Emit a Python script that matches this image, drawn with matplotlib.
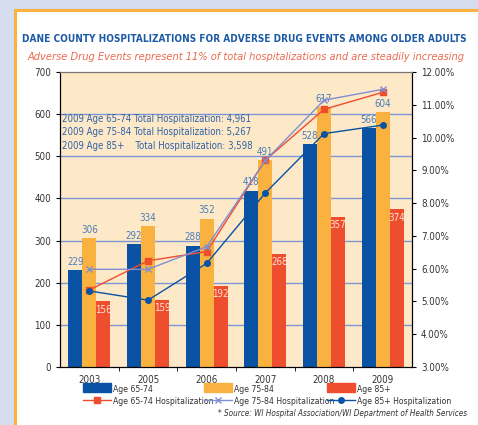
import matplotlib
matplotlib.use('Agg')
import matplotlib.pyplot as plt
import numpy as np
from matplotlib import font_manager
from matplotlib.font_manager import FontProperties
from matplotlib.lines import Line2D
from matplotlib.patches import Patch, Rectangle
from matplotlib.ticker import FuncFormatter

years = ['2003', '2005', '2006', '2007', '2008', '2009']
age_65_74 = [229, 292, 288, 418, 528, 566]
age_75_84 = [306, 334, 352, 491, 617, 604]
age_85 = [156, 159, 192, 268, 357, 374]
hosp_65_74 = [5.35, 6.24, 6.52, 9.31, 10.86, 11.38]
hosp_75_84 = [5.98, 5.98, 6.67, 9.30, 11.14, 11.47]
hosp_85 = [5.32, 5.04, 6.16, 8.31, 10.12, 10.38]
totals = ['2009 Age 65-74 Total Hospitalization: 4,961',
          '2009 Age 75-84 Total Hospitalization: 5,267',
          '2009 Age 85+    Total Hospitalization: 3,598']

blue = '#0a52a3'
orange = '#f9b13f'
red = '#ef4e2e'
light_blue = '#7f8fd2'
label_blue = '#4a7bb8'


def weight_num(w):
    if isinstance(w, str):
        return font_manager.weight_dict.get(w, 400)
    return w


def pick_font(bold=False, italic=False):
    # look for a condensed / narrow face, else fall back to Liberation Sans
    for f in font_manager.fontManager.ttflist:
        narrow = (f.stretch in ('condensed', 'semi-condensed', 'extra-condensed')
                  or 'Narrow' in f.name or 'Condensed' in f.name)
        if not narrow:
            continue
        is_bold = weight_num(f.weight) >= 600
        is_italic = f.style in ('italic', 'oblique')
        if is_bold == bold and is_italic == italic:
            return FontProperties(fname=f.fname)
    return FontProperties(family=['Liberation Sans', 'DejaVu Sans'],
                          weight='bold' if bold else 'normal',
                          style='italic' if italic else 'normal')


f_reg = pick_font()
f_bold = pick_font(bold=True)
f_ital = pick_font(italic=True)

fig = plt.figure(figsize=(4.78, 4.25), dpi=100)
r = fig.canvas.get_renderer()


def fit(t, target):
    wpx = t.get_window_extent(r).width
    t.set_fontsize(t.get_fontsize() * target / wpx)


fig.patch.set_facecolor('#d6ddef')
fig.patches.append(Rectangle((15 / 478, 0), 1, (425 - 9) / 425, transform=fig.transFigure,
                             facecolor='white', edgecolor='none', zorder=-2))
fig.add_artist(Line2D([15 / 478, 1], [(425 - 9.5) / 425] * 2, transform=fig.transFigure,
                      color=orange, lw=2.2, zorder=-1))
fig.add_artist(Line2D([15 / 478] * 2, [0, (425 - 9.5) / 425], transform=fig.transFigure,
                      color=orange, lw=2.2, zorder=-1))

ax = fig.add_axes([60 / 478, 58 / 425, 352 / 478, 295 / 425])
ax.set_facecolor('#fde8c8')
x = np.arange(len(years))
w = 0.24
ax.bar(x - w, age_65_74, w, color=blue, zorder=2)
ax.bar(x, age_75_84, w, color=orange, zorder=2)
ax.bar(x + w, age_85, w, color=red, zorder=2)
ax.set_xlim(-0.5, len(years) - 0.5)
ax.set_ylim(0, 700)
ax.set_yticks(range(0, 701, 100))
for y in range(100, 700, 100):
    ax.axhline(y, color='#7d97d6', lw=1, zorder=1)

for i in range(len(years)):
    ax.text(x[i] - w, age_65_74[i] + 8, str(age_65_74[i]), ha='center', va='bottom',
            fontproperties=f_reg, fontsize=7, color=label_blue, zorder=4)
    ax.text(x[i], age_75_84[i] + 8, str(age_75_84[i]), ha='center', va='bottom',
            fontproperties=f_reg, fontsize=7, color=label_blue, zorder=4)
    ax.text(x[i] + w, age_85[i] - 8, str(age_85[i]), ha='center', va='top',
            fontproperties=f_reg, fontsize=7, color='#fde3d5', zorder=4)

ax.set_xticks(x)
ax.set_xticklabels(years)
ax.set_xticks(np.arange(0.5, len(years) - 0.5, 1), minor=True)
ax.tick_params(axis='x', which='major', length=0, pad=6)
ax.tick_params(axis='x', which='minor', length=3, direction='out')
ax.tick_params(axis='y', length=3, direction='out')
for s in ['left', 'bottom', 'right']:
    ax.spines[s].set_color('black')
ax.spines['top'].set_color('#777777')

for k, t in enumerate(totals):
    tt = ax.text(0.006, 0.842 - k * 0.047, t, transform=ax.transAxes, fontproperties=f_reg,
                 fontsize=8, color='#2f63a8', va='center', zorder=5)
    if k == 0:
        fit(tt, 190)
        tot_size = tt.get_fontsize()
    else:
        tt.set_fontsize(tot_size)

ax2 = ax.twinx()
ax2.set_ylim(3, 12)
ax2.set_yticks(range(3, 13))
ax2.yaxis.set_major_formatter(FuncFormatter(lambda v, p: '{:.2f}%'.format(v)))
ax2.tick_params(axis='y', length=3, direction='out')
ax2.spines['right'].set_color('black')
ax2.spines['top'].set_color('#777777')
l1, = ax2.plot(x, hosp_65_74, color=red, lw=1, marker='s', ms=4)
l2, = ax2.plot(x, hosp_75_84, color=light_blue, lw=1, marker='x', ms=4, mew=1)
l3, = ax2.plot(x, hosp_85, color=blue, lw=1, marker='o', ms=4)

for a in (ax, ax2):
    for lab in a.get_xticklabels() + a.get_yticklabels():
        lab.set_fontproperties(f_reg)
        lab.set_fontsize(7)
        lab.set_color('#333333')

# legend font size so the longest label is about 100 px wide
probe = fig.text(0, 0, 'Age 65-74 Hospitalization', fontproperties=f_reg, fontsize=7)
fit(probe, 100)
leg_size = probe.get_fontsize()
probe.remove()
hl = 17 / (leg_size * 100 / 72)

cols = [(blue, l1, 'Age 65-74', 'Age 65-74 Hospitalization', 83),
        (orange, l2, 'Age 75-84', 'Age 75-84 Hospitalization', 204),
        (red, l3, 'Age 85+', 'Age 85+ Hospitalization', 327)]
for color, line, lab1, lab2, px in cols:
    leg = fig.legend([Patch(color=color), line], [lab1, lab2], loc='upper left',
                     bbox_to_anchor=(px / 478, 1 - 383 / 425), frameon=False,
                     prop=f_reg, handlelength=hl, handleheight=0.6, handletextpad=0.15,
                     labelspacing=0.05, borderpad=0, borderaxespad=0)
    for t in leg.get_texts():
        t.set_fontsize(leg_size)
        t.set_color('#333333')

title = fig.text(244 / 478, 1 - 39 / 425,
                 'DANE COUNTY HOSPITALIZATIONS FOR ADVERSE DRUG EVENTS AMONG OLDER ADULTS',
                 ha='center', va='center', fontproperties=f_bold, fontsize=10, color='#1d5aa5')
sub = fig.text(246 / 478, 1 - 57 / 425,
               'Adverse Drug Events represent 11% of total hospitalizations and are steadily increasing',
               ha='center', va='center', fontproperties=f_ital, fontsize=9.5, color='#ec6a50')
src = fig.text(467 / 478, 1 - 414 / 425,
               '* Source: WI Hospital Association/WI Department of Health Services',
               ha='right', va='center', fontproperties=f_ital, fontsize=6.5, color='#333333')
for t, target in [(title, 440), (sub, 440), (src, 250)]:
    fit(t, target)

fig.savefig('out.png', dpi=100, facecolor=fig.get_facecolor())
